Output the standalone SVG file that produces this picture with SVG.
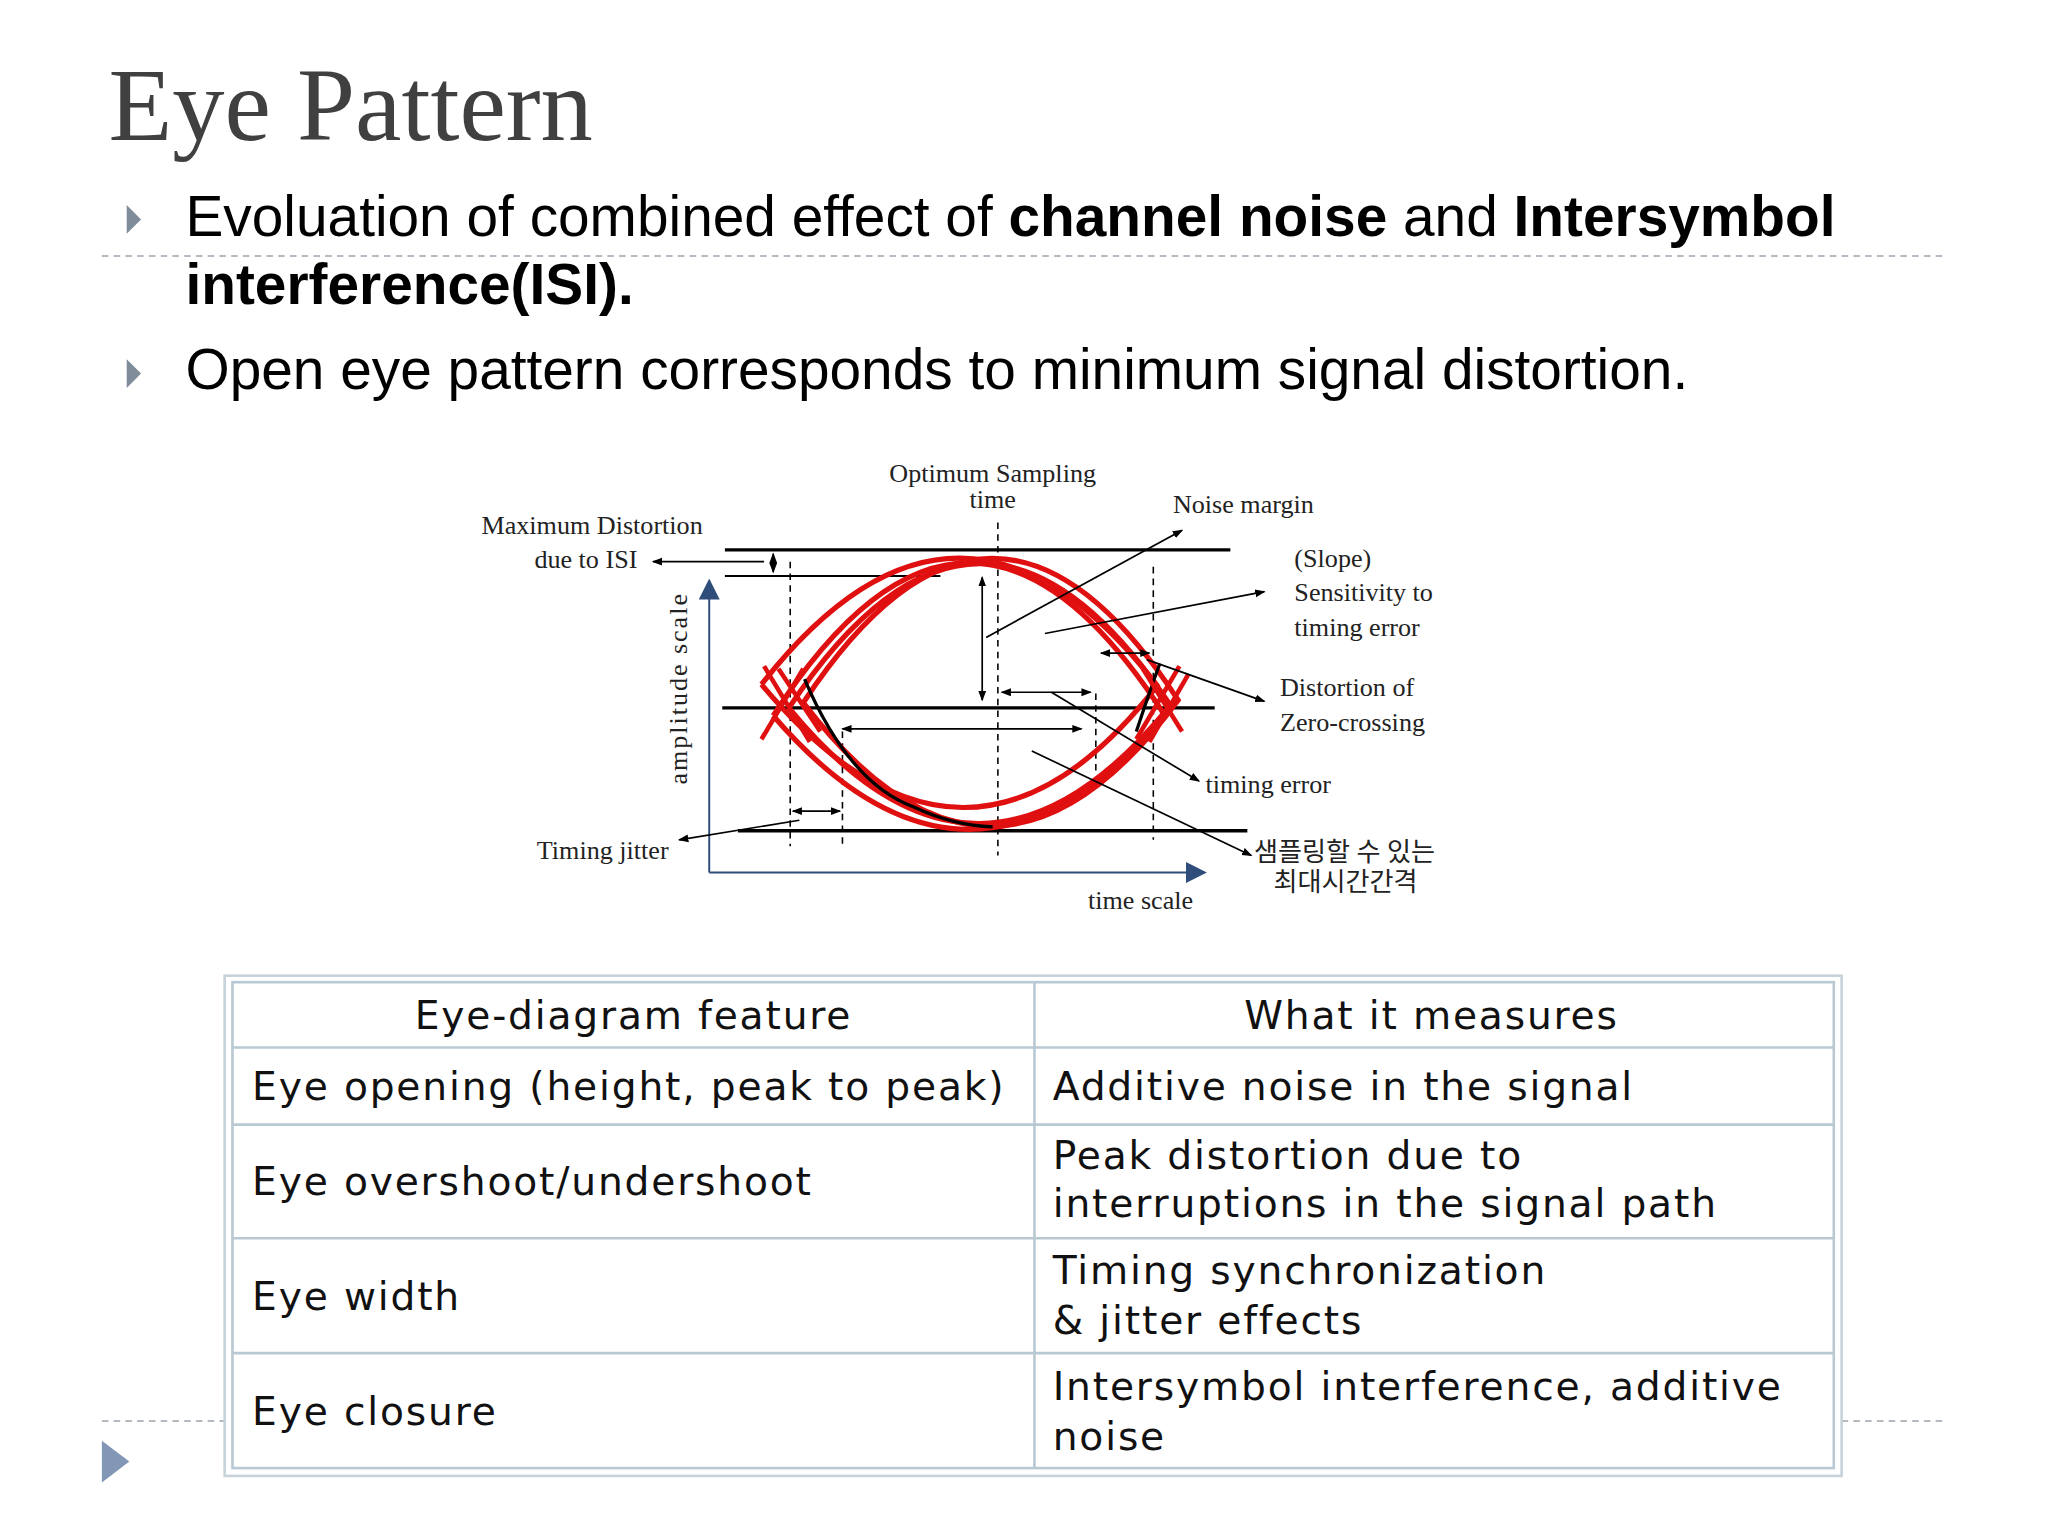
<svg xmlns="http://www.w3.org/2000/svg" width="2048" height="1536" viewBox="0 0 2048 1536">
<defs>
<marker id="ah" markerWidth="8" markerHeight="8" refX="7" refY="4" orient="auto-start-reverse" markerUnits="userSpaceOnUse"><path d="M0,1 L8,4 L0,7 Z" fill="#000"/></marker>
<marker id="ab" markerWidth="16" markerHeight="16" refX="14" refY="8" orient="auto" markerUnits="userSpaceOnUse"><path d="M0,0 L16,8 L0,16 Z" fill="#2e4d7a"/></marker>
<style>
.t{font-family:"Liberation Serif","Noto Sans CJK KR",serif;font-size:20px;fill:#222}
.b{font-family:"Liberation Sans",Arial,sans-serif;font-size:43.5px;fill:#000}
.tb{font-family:"DejaVu Sans",Verdana,sans-serif;font-size:30px;letter-spacing:1.4px;fill:#111}
.hl{stroke:#000;stroke-width:2.6}
.ds{stroke:#000;stroke-width:1.2;stroke-dasharray:5,4}
.ar{stroke:#000;stroke-width:1.3;fill:none}
.eye{fill:none;stroke:#e01010;stroke-width:4}
.g{stroke:#b9c9d3;stroke-width:2;fill:none}
</style>
</defs>
<rect width="2048" height="1536" fill="#fff"/>
<g transform="scale(1.30612)">
<g id="title"><text x="83" y="107" font-family="Liberation Serif,serif" font-size="80" fill="#404040">Eye Pattern</text></g>
<g id="bullets">
<path d="M97,157 L108,168 L97,179 Z" fill="#7f8c99"/>
<path d="M97,275 L108,286 L97,297 Z" fill="#7f8c99"/>
<text class="b" x="142" y="181">Evoluation of combined effect of <tspan font-weight="bold">channel noise</tspan> and <tspan font-weight="bold">Intersymbol</tspan></text>
<text class="b" x="142" y="233" font-weight="bold">interference(ISI).</text>
<text class="b" x="142" y="298">Open eye pattern corresponds to minimum signal distortion.</text>
<line x1="78" y1="196" x2="1490" y2="196" stroke="#9aa4ad" stroke-width="1.2" stroke-dasharray="5,4"/>
<line x1="78" y1="1088" x2="172" y2="1088" stroke="#9aa4ad" stroke-width="1.2" stroke-dasharray="5,4"/>
<line x1="1410" y1="1088" x2="1490" y2="1088" stroke="#9aa4ad" stroke-width="1.2" stroke-dasharray="5,4"/>
<path d="M78,1103 L99,1119 L78,1135 Z" fill="#8197b5"/>
</g>
<g id="diagram">
<line class="hl" x1="555" y1="421" x2="942" y2="421"/>
<line x1="555" y1="441" x2="720" y2="441" stroke="#000" stroke-width="1.5"/>
<line class="hl" x1="553" y1="542" x2="930" y2="542"/>
<line class="hl" x1="565" y1="636" x2="955" y2="636"/>
<line class="ds" x1="605" y1="430" x2="605" y2="648"/>
<line class="ds" x1="645" y1="560" x2="645" y2="648"/>
<line class="ds" x1="764" y1="400" x2="764" y2="655"/>
<line class="ds" x1="839" y1="531" x2="839" y2="592"/>
<line class="ds" x1="883" y1="434" x2="883" y2="643"/>
<line x1="543" y1="668" x2="543" y2="445" stroke="#2e4d7a" stroke-width="1.5" marker-end="url(#ab)"/>
<line x1="543" y1="668" x2="922" y2="668" stroke="#2e4d7a" stroke-width="1.5" marker-end="url(#ab)"/>
<path class="eye" d="M592,548 Q742,314 892,548 Q742,722 592,548"/>
<path class="eye" d="M604,542 Q750,322 896,540 Q750,720 604,542"/>
<path class="eye" d="M615,538 Q760,318 902,536 Q760,728 615,538"/>
<path class="eye" d="M583,524 Q735,330 886,525 Q740,712 583,524"/>
<path d="M616,520 Q650,600 700,618 Q730,632 760,633" fill="none" stroke="#000" stroke-width="2.5"/>
<path d="M870,560 Q880,530 888,508" fill="none" stroke="#000" stroke-width="2.5"/>
<g stroke="#e01010" stroke-width="3.5">
<line x1="585" y1="510" x2="620" y2="568"/><line x1="583" y1="566" x2="615" y2="512"/>
<line x1="596" y1="512" x2="628" y2="560"/>
<line x1="870" y1="566" x2="903" y2="510"/><line x1="880" y1="568" x2="910" y2="516"/>
<line x1="875" y1="512" x2="905" y2="560"/>
</g>
<line class="ar" x1="592" y1="424" x2="592" y2="438" marker-start="url(#ah)" marker-end="url(#ah)"/>
<line class="ar" x1="585" y1="430" x2="500" y2="430" marker-end="url(#ah)"/>
<line class="ar" x1="752" y1="442" x2="752" y2="536" marker-start="url(#ah)" marker-end="url(#ah)"/>
<line class="ar" x1="645" y1="558" x2="828" y2="558" marker-start="url(#ah)" marker-end="url(#ah)"/>
<line class="ar" x1="767" y1="530" x2="835" y2="530" marker-start="url(#ah)" marker-end="url(#ah)"/>
<line class="ar" x1="843" y1="500" x2="880" y2="500" marker-start="url(#ah)" marker-end="url(#ah)"/>
<line class="ar" x1="607" y1="621" x2="643" y2="621" marker-start="url(#ah)" marker-end="url(#ah)"/>
<line class="ar" x1="612" y1="628" x2="520" y2="643" marker-end="url(#ah)"/>
<line class="ar" x1="755" y1="488" x2="905" y2="406" marker-end="url(#ah)"/>
<line class="ar" x1="800" y1="485" x2="968" y2="453" marker-end="url(#ah)"/>
<line class="ar" x1="878" y1="505" x2="968" y2="537" marker-end="url(#ah)"/>
<line class="ar" x1="805" y1="530" x2="918" y2="598" marker-end="url(#ah)"/>
<line class="ar" x1="790" y1="575" x2="958" y2="655" marker-end="url(#ah)"/>
<text class="t" x="760" y="369" text-anchor="middle">Optimum  Sampling</text>
<text class="t" x="760" y="389" text-anchor="middle">time</text>
<text class="t" x="898" y="393">Noise margin</text>
<text class="t" x="538" y="409" text-anchor="end">Maximum Distortion</text>
<text class="t" x="488" y="435" text-anchor="end">due to ISI</text>
<text class="t" x="991" y="434">(Slope)</text>
<text class="t" x="991" y="460">Sensitivity to</text>
<text class="t" x="991" y="487">timing error</text>
<text class="t" x="980" y="533">Distortion of</text>
<text class="t" x="980" y="560">Zero-crossing</text>
<text class="t" x="923" y="607">timing error</text>
<text class="t" x="411" y="658">Timing jitter</text>
<text class="t" x="960" y="659">샘플링할 수 있는</text>
<text class="t" x="975" y="682">최대시간간격</text>
<text class="t" x="833" y="696" fill="#555">time scale</text>
<text class="t" x="0" y="0" fill="#666" letter-spacing="1.5" text-anchor="middle" transform="translate(526,527) rotate(-90)">amplitude scale</text>
</g>
<g id="table">
<rect x="172" y="747" width="1238" height="383" fill="none" stroke="#c7d3da" stroke-width="2"/>
<rect x="178" y="752" width="1226" height="372" fill="#fff" stroke="#b9c9d3" stroke-width="2"/>
<line class="g" x1="792" y1="752" x2="792" y2="1124"/>
<line class="g" x1="178" y1="802" x2="1404" y2="802"/>
<line class="g" x1="178" y1="861" x2="1404" y2="861"/>
<line class="g" x1="178" y1="948" x2="1404" y2="948"/>
<line class="g" x1="178" y1="1036" x2="1404" y2="1036"/>
<text class="tb" x="485" y="788" text-anchor="middle">Eye-diagram feature</text>
<text class="tb" x="1096" y="788" text-anchor="middle">What it measures</text>
<text class="tb" x="193" y="842">Eye opening (height, peak to peak)</text>
<text class="tb" x="806" y="842">Additive noise in the signal</text>
<text class="tb" x="193" y="915">Eye overshoot/undershoot</text>
<text class="tb" x="806" y="895">Peak distortion due to</text>
<text class="tb" x="806" y="932">interruptions in the signal path</text>
<text class="tb" x="193" y="1003">Eye width</text>
<text class="tb" x="806" y="983">Timing synchronization</text>
<text class="tb" x="806" y="1021">&amp; jitter effects</text>
<text class="tb" x="193" y="1091">Eye closure</text>
<text class="tb" x="806" y="1072">Intersymbol interference, additive</text>
<text class="tb" x="806" y="1110">noise</text>
</g>
</g>
</svg>
